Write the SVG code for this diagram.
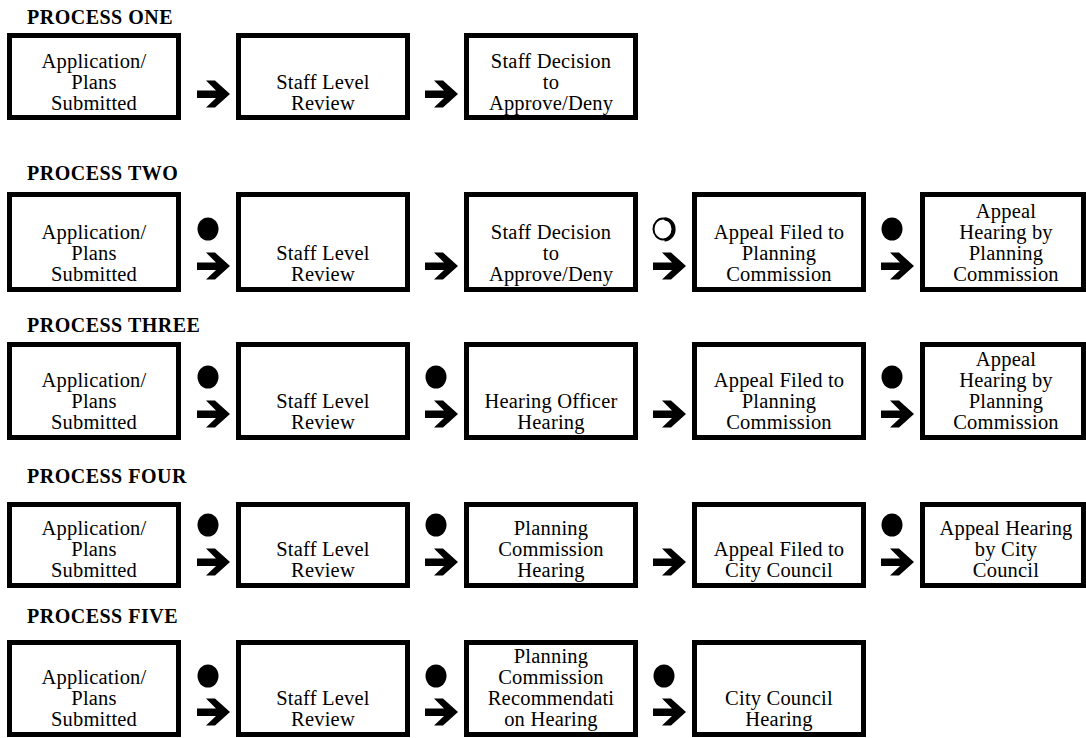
<svg xmlns="http://www.w3.org/2000/svg" xmlns:xlink="http://www.w3.org/1999/xlink" width="1086" height="738" viewBox="0 0 1086 738">
<style>
.bg{fill:#fff}
.box{fill:#fff;stroke:#000;stroke-width:5}
.t{font-family:"Liberation Serif","Times New Roman",serif;font-size:20.5px;letter-spacing:0.2px;text-anchor:middle;fill:#000}
.h{font-family:"Liberation Serif","Times New Roman",serif;font-size:20px;font-weight:bold;letter-spacing:0.5px;fill:#000}
.dot{fill:#000}
.ring{fill:none;stroke:#000;stroke-width:2}
.shadow{fill:none;stroke:#000;stroke-width:3.2}
</style>
<defs>
<path id="arr" d="M0,10 H19 L9,0 H18 L33,13.5 L18,27 H9 L19,17.5 H0 Z" fill="#000"/>
</defs>
<rect class="bg" x="0" y="0" width="1086" height="738"/>

<g id="titles">
<text class="h" x="27" y="24">PROCESS ONE</text>
<text class="h" x="27" y="180">PROCESS TWO</text>
<text class="h" x="27" y="332">PROCESS THREE</text>
<text class="h" x="27" y="483">PROCESS FOUR</text>
<text class="h" x="27" y="623">PROCESS FIVE</text>
</g>

<!-- Process one: B=120 -->
<g id="p1n1"><rect class="box" x="9.5" y="35.5" width="169" height="82"/>
<text class="t"><tspan x="94" y="68">Application/</tspan><tspan x="94" y="89">Plans</tspan><tspan x="94" y="110">Submitted</tspan></text></g>
<g id="p1n2"><rect class="box" x="238.5" y="35.5" width="169" height="82"/>
<text class="t"><tspan x="323" y="89">Staff Level</tspan><tspan x="323" y="110">Review</tspan></text></g>
<g id="p1n3"><rect class="box" x="466.5" y="35.5" width="169" height="82"/>
<text class="t"><tspan x="551" y="68">Staff Decision</tspan><tspan x="551" y="89">to</tspan><tspan x="551" y="110">Approve/Deny</tspan></text></g>

<!-- Process two: B=292 -->
<g id="p2n1"><rect class="box" x="9.5" y="194.5" width="169" height="95"/>
<text class="t"><tspan x="94" y="239">Application/</tspan><tspan x="94" y="260">Plans</tspan><tspan x="94" y="281">Submitted</tspan></text></g>
<g id="p2n2"><rect class="box" x="238.5" y="194.5" width="169" height="95"/>
<text class="t"><tspan x="323" y="260">Staff Level</tspan><tspan x="323" y="281">Review</tspan></text></g>
<g id="p2n3"><rect class="box" x="466.5" y="194.5" width="169" height="95"/>
<text class="t"><tspan x="551" y="239">Staff Decision</tspan><tspan x="551" y="260">to</tspan><tspan x="551" y="281">Approve/Deny</tspan></text></g>
<g id="p2n4"><rect class="box" x="694.5" y="194.5" width="169" height="95"/>
<text class="t"><tspan x="779" y="239">Appeal Filed to</tspan><tspan x="779" y="260">Planning</tspan><tspan x="779" y="281">Commission</tspan></text></g>
<g id="p2n5"><rect class="box" x="922.5" y="194.5" width="161" height="95"/>
<text class="t"><tspan x="1006" y="218">Appeal</tspan><tspan x="1006" y="239">Hearing by</tspan><tspan x="1006" y="260">Planning</tspan><tspan x="1006" y="281">Commission</tspan></text></g>

<!-- Process three: B=440 -->
<g id="p3n1"><rect class="box" x="9.5" y="344.5" width="169" height="93"/>
<text class="t"><tspan x="94" y="387">Application/</tspan><tspan x="94" y="408">Plans</tspan><tspan x="94" y="429">Submitted</tspan></text></g>
<g id="p3n2"><rect class="box" x="238.5" y="344.5" width="169" height="93"/>
<text class="t"><tspan x="323" y="408">Staff Level</tspan><tspan x="323" y="429">Review</tspan></text></g>
<g id="p3n3"><rect class="box" x="466.5" y="344.5" width="169" height="93"/>
<text class="t"><tspan x="551" y="408">Hearing Officer</tspan><tspan x="551" y="429">Hearing</tspan></text></g>
<g id="p3n4"><rect class="box" x="694.5" y="344.5" width="169" height="93"/>
<text class="t"><tspan x="779" y="387">Appeal Filed to</tspan><tspan x="779" y="408">Planning</tspan><tspan x="779" y="429">Commission</tspan></text></g>
<g id="p3n5"><rect class="box" x="922.5" y="344.5" width="161" height="93"/>
<text class="t"><tspan x="1006" y="366">Appeal</tspan><tspan x="1006" y="387">Hearing by</tspan><tspan x="1006" y="408">Planning</tspan><tspan x="1006" y="429">Commission</tspan></text></g>

<!-- Process four: B=588 -->
<g id="p4n1"><rect class="box" x="9.5" y="504.5" width="169" height="81"/>
<text class="t"><tspan x="94" y="535">Application/</tspan><tspan x="94" y="556">Plans</tspan><tspan x="94" y="577">Submitted</tspan></text></g>
<g id="p4n2"><rect class="box" x="238.5" y="504.5" width="169" height="81"/>
<text class="t"><tspan x="323" y="556">Staff Level</tspan><tspan x="323" y="577">Review</tspan></text></g>
<g id="p4n3"><rect class="box" x="466.5" y="504.5" width="169" height="81"/>
<text class="t"><tspan x="551" y="535">Planning</tspan><tspan x="551" y="556">Commission</tspan><tspan x="551" y="577">Hearing</tspan></text></g>
<g id="p4n4"><rect class="box" x="694.5" y="504.5" width="169" height="81"/>
<text class="t"><tspan x="779" y="556">Appeal Filed to</tspan><tspan x="779" y="577">City Council</tspan></text></g>
<g id="p4n5"><rect class="box" x="922.5" y="504.5" width="161" height="81"/>
<text class="t"><tspan x="1006" y="535">Appeal Hearing</tspan><tspan x="1006" y="556">by City</tspan><tspan x="1006" y="577">Council</tspan></text></g>

<!-- Process five: B=737 -->
<g id="p5n1"><rect class="box" x="9.5" y="642.5" width="169" height="92"/>
<text class="t"><tspan x="94" y="684">Application/</tspan><tspan x="94" y="705">Plans</tspan><tspan x="94" y="726">Submitted</tspan></text></g>
<g id="p5n2"><rect class="box" x="238.5" y="642.5" width="169" height="92"/>
<text class="t"><tspan x="323" y="705">Staff Level</tspan><tspan x="323" y="726">Review</tspan></text></g>
<g id="p5n3"><rect class="box" x="466.5" y="642.5" width="169" height="92"/>
<text class="t"><tspan x="551" y="663">Planning</tspan><tspan x="551" y="684">Commission</tspan><tspan x="551" y="705">Recommendati</tspan><tspan x="551" y="726">on Hearing</tspan></text></g>
<g id="p5n4"><rect class="box" x="694.5" y="642.5" width="169" height="92"/>
<text class="t"><tspan x="779" y="705">City Council</tspan><tspan x="779" y="726">Hearing</tspan></text></g>

<g id="connectors">
<!-- row 1 -->
<use xlink:href="#arr" x="197" y="80.5"/>
<use xlink:href="#arr" x="425" y="80.5"/>
<!-- row 2 -->
<ellipse class="dot" cx="208" cy="229" rx="10.5" ry="11.5"/>
<use xlink:href="#arr" x="197" y="252.5"/>
<use xlink:href="#arr" x="425" y="252.5"/>
<ellipse class="ring" cx="663" cy="229" rx="9.5" ry="10.5"/>
<path class="shadow" d="M664.5,218.8 A9.5,10.5 0 0 1 664.5,239.8"/>
<use xlink:href="#arr" x="653" y="252.5"/>
<ellipse class="dot" cx="892" cy="229" rx="10.5" ry="11.5"/>
<use xlink:href="#arr" x="881" y="252.5"/>
<!-- row 3 -->
<ellipse class="dot" cx="208" cy="377" rx="10.5" ry="11.5"/>
<use xlink:href="#arr" x="197" y="400.5"/>
<ellipse class="dot" cx="436" cy="377" rx="10.5" ry="11.5"/>
<use xlink:href="#arr" x="425" y="400.5"/>
<use xlink:href="#arr" x="653" y="400.5"/>
<ellipse class="dot" cx="892" cy="377" rx="10.5" ry="11.5"/>
<use xlink:href="#arr" x="881" y="400.5"/>
<!-- row 4 -->
<ellipse class="dot" cx="208" cy="525" rx="10.5" ry="11.5"/>
<use xlink:href="#arr" x="197" y="548.5"/>
<ellipse class="dot" cx="436" cy="525" rx="10.5" ry="11.5"/>
<use xlink:href="#arr" x="425" y="548.5"/>
<use xlink:href="#arr" x="653" y="548.5"/>
<ellipse class="dot" cx="892" cy="525" rx="10.5" ry="11.5"/>
<use xlink:href="#arr" x="881" y="548.5"/>
<!-- row 5 -->
<ellipse class="dot" cx="208" cy="676" rx="10.5" ry="11.5"/>
<use xlink:href="#arr" x="197" y="698.5"/>
<ellipse class="dot" cx="436" cy="676" rx="10.5" ry="11.5"/>
<use xlink:href="#arr" x="425" y="698.5"/>
<ellipse class="dot" cx="664" cy="676" rx="10.5" ry="11.5"/>
<use xlink:href="#arr" x="653" y="698.5"/>
</g>
</svg>
